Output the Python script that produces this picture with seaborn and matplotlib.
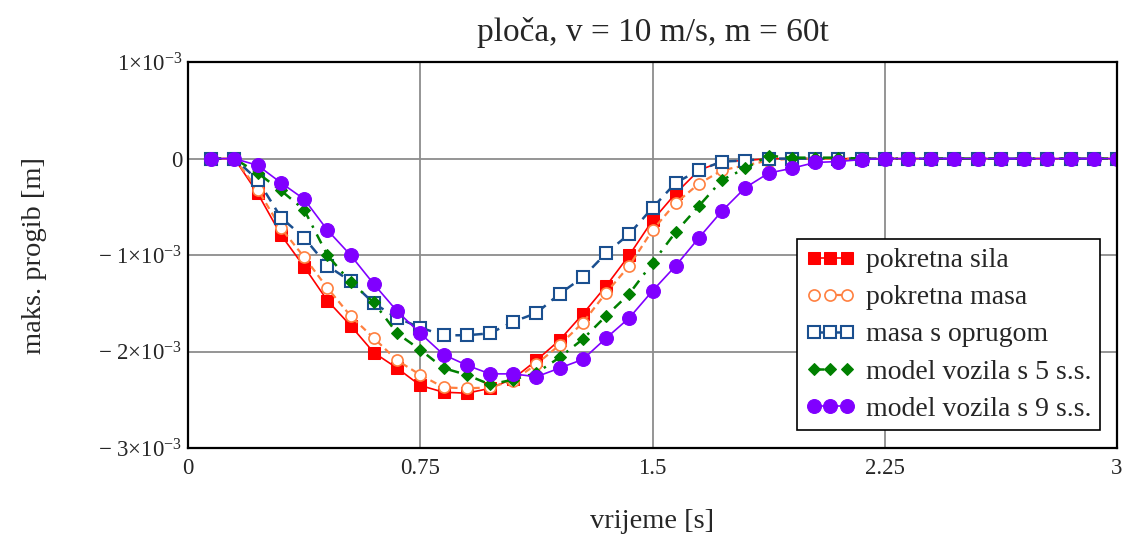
import numpy as np
import pandas as pd
import matplotlib
matplotlib.use("Agg")
import matplotlib.pyplot as plt
import seaborn as sns

# time steps (s)
t = [0.075 * k for k in range(1, 41)]

# deflection readings in units of 1e-3 m
sila = [0, 0, -0.36, -0.79, -1.12, -1.47, -1.73, -2.01, -2.17, -2.35,
        -2.42, -2.43, -2.38, -2.28, -2.09, -1.88, -1.61, -1.32, -1.00, -0.64,
        -0.36, -0.12, -0.03, -0.02, 0, 0, 0, 0, 0, 0,
        0, 0, 0, 0, 0, 0, 0, 0, 0, 0]
masa = [0, 0, -0.32, -0.72, -1.02, -1.34, -1.63, -1.86, -2.09, -2.24,
        -2.37, -2.38, -2.37, -2.30, -2.13, -1.93, -1.70, -1.39, -1.11, -0.74,
        -0.46, -0.26, -0.12, -0.07, -0.02, 0, 0, 0, 0, 0,
        0, 0, 0, 0, 0, 0, 0, 0, 0, 0]
opruga = [0, 0, -0.22, -0.61, -0.82, -1.11, -1.27, -1.50, -1.65, -1.75,
          -1.83, -1.83, -1.81, -1.69, -1.60, -1.40, -1.23, -0.98, -0.78, -0.51,
          -0.25, -0.12, -0.03, -0.02, 0, 0, 0, 0, 0, 0,
          0, 0, 0, 0, 0, 0, 0, 0, 0, 0]
vozilo5 = [0, 0, -0.15, -0.33, -0.53, -1.00, -1.28, -1.49, -1.81, -1.98,
           -2.17, -2.24, -2.34, -2.29, -2.22, -2.06, -1.87, -1.63, -1.40, -1.08,
           -0.76, -0.49, -0.22, -0.10, 0.03, 0.01, 0.01, 0.01, 0, 0,
           0, 0, 0, 0, 0, 0, 0, 0, 0, 0]
vozilo9 = [0, 0, -0.07, -0.25, -0.42, -0.74, -1.00, -1.30, -1.58, -1.81,
           -2.03, -2.14, -2.23, -2.23, -2.26, -2.17, -2.08, -1.86, -1.65, -1.37,
           -1.11, -0.82, -0.54, -0.30, -0.15, -0.10, -0.04, -0.03, -0.01, 0,
           0, 0, 0, 0, 0, 0, 0, 0, 0, 0]

labels = ["pokretna sila", "pokretna masa", "masa s oprugom",
          "model vozila s 5 s.s.", "model vozila s 9 s.s."]

sns.set_style("white")
plt.rcParams['font.family'] = ['Liberation Serif', 'DejaVu Serif']
plt.rcParams['mathtext.fontset'] = 'custom'
plt.rcParams['mathtext.rm'] = 'Liberation Serif'
plt.rcParams['mathtext.it'] = 'Liberation Serif:italic'

fig = plt.figure(figsize=(11.26, 5.4), dpi=100)
ax = fig.add_axes([0.167, 0.170, 0.825, 0.715])

styles = [
    dict(color="#ff0000", marker="s", markersize=9, markeredgecolor="#ff0000",
         linestyle="-", linewidth=1.2),
    dict(color="#ff8040", marker="o", markersize=8, markerfacecolor="white",
         markeredgecolor="#ff8040", markeredgewidth=1.2,
         linestyle=(0, (3, 2)), linewidth=1.6),
    dict(color="#1a4f8f", marker="s", markersize=9, markerfacecolor="white",
         markeredgecolor="#1a4f8f", markeredgewidth=1.5,
         linestyle=(0, (4, 3)), linewidth=1.8),
    dict(color="#008000", marker="D", markersize=6.5, markeredgecolor="#008000",
         linestyle=(0, (4, 3, 1, 3)), linewidth=1.8),
    dict(color="#8000ff", marker="o", markersize=10, markeredgecolor="#8000ff",
         linestyle="-", linewidth=1.2),
]
series = [sila, masa, opruga, vozilo5, vozilo9]

for vals, lab, st in zip(series, labels, styles):
    y = np.array(vals) * 1e-3
    sns.lineplot(x=t, y=y, ax=ax, label=lab, **st)

ax.set_xlim(0, 3)
ax.set_ylim(-3e-3, 1e-3)
ax.set_xticks([0, 0.75, 1.5, 2.25, 3])
ax.set_xticklabels(["0", "0.75", "1.5", "2.25", "3"])
yt = [1e-3, 0, -1e-3, -2e-3, -3e-3]
ax.set_yticks(yt)
ax.set_yticklabels([r"$1{\times}10^{-3}$", "0", r"$-\ 1{\times}10^{-3}$",
                    r"$-\ 2{\times}10^{-3}$", r"$-\ 3{\times}10^{-3}$"])
ax.tick_params(axis="y", length=0, labelsize=16.5, pad=4)
ax.tick_params(axis="x", length=0, labelsize=16.5, pad=7)
ax.grid(True, color="#8c8c8c", linewidth=1.3)
for sp in ax.spines.values():
    sp.set_color("black")
    sp.set_linewidth(1.6)

ax.set_title("ploča, v = 10 m/s, m = 60t", fontsize=24, pad=15)
ax.set_xlabel("vrijeme [s]", fontsize=20.5, labelpad=22)
ax.set_ylabel("maks. progib [m]", fontsize=20.5, labelpad=37)

leg = ax.legend(loc="lower right", bbox_to_anchor=(0.982, 0.047), numpoints=3,
                handlelength=1.8, fontsize=20, frameon=True, fancybox=False,
                framealpha=1, borderpad=0.3, labelspacing=0.42,
                handletextpad=0.4, borderaxespad=0)
leg.get_frame().set_edgecolor("black")
leg.get_frame().set_linewidth(1.2)

fig.savefig("out.png", dpi=100)
